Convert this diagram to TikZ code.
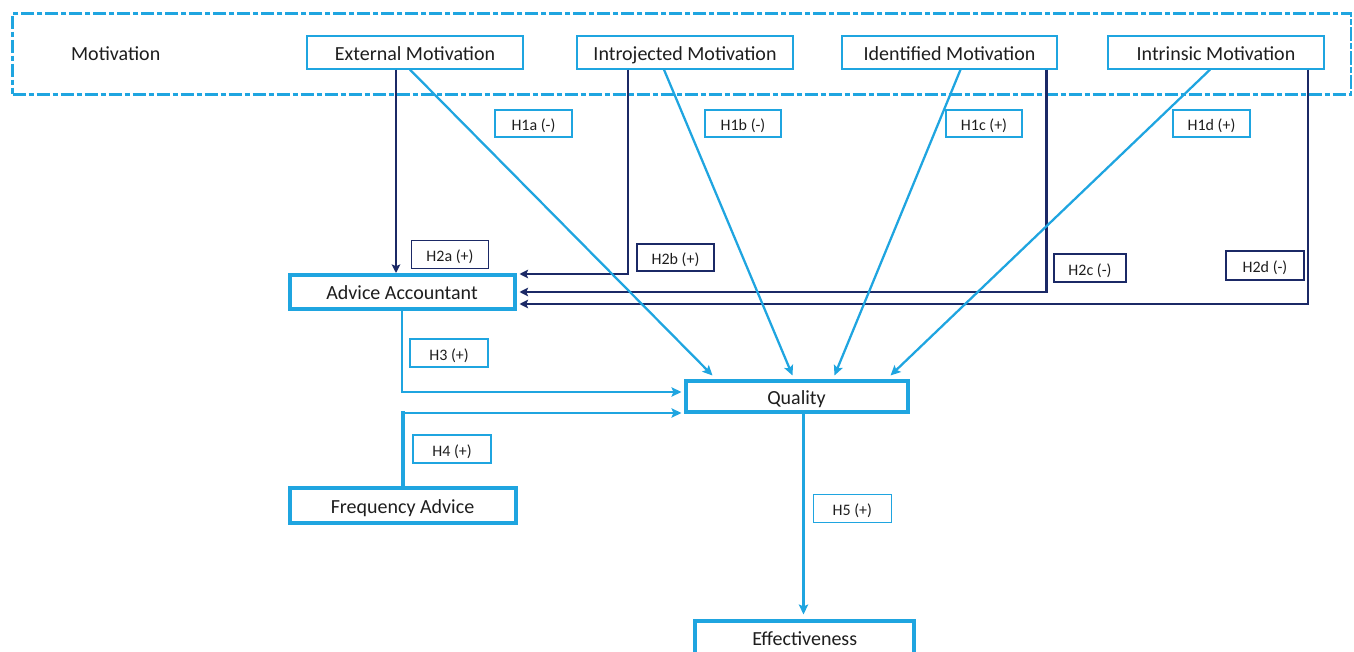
\documentclass[tikz,border=0pt]{standalone}
\usepackage{fontspec}
\setmainfont{Carlito}
\usetikzlibrary{arrows.meta,calc}
\definecolor{lb}{HTML}{1FA5E0}
\definecolor{nv}{HTML}{1B2966}
\definecolor{tx}{HTML}{1E1E1E}
\begin{document}
\begin{tikzpicture}[x=0.75pt,y=-0.75pt,
  every node/.style={inner sep=0pt, text=tx},
  sz/.style 2 args={minimum width=#1*0.75pt, minimum height=#2*0.75pt},
  bigtxt/.style={font=\fontsize{15}{18}\selectfont, text height=14pt, text depth=2pt},
  smtxt/.style={font=\fontsize{12}{14}\selectfont, text height=12.5pt, text depth=1.6pt},
  motbox/.style={draw=lb, line width=1pt, bigtxt},
  mainbox/.style={draw=lb, line width=3pt, fill=white, bigtxt},
  lblue/.style={draw=lb, line width=1pt, smtxt},
  lnavy/.style={draw=nv, line width=1pt, smtxt},
  navyarrow/.style={draw=nv, line width=1.7pt, -{Stealth[length=6.5pt,width=6.5pt,inset=1.5pt]}},
  bluearrow/.style={draw=lb, line width=1.7pt, -{Stealth[length=7.5pt,width=7pt,inset=1.5pt]}},
  groupbox/.style={draw=lb, line width=1.9pt, dash pattern=on 10pt off 2pt on 4pt off 2pt}
]
\useasboundingbox (0,0) rectangle (1354,652);

% motivation group
\node[groupbox, sz={1338.5}{80.8}] (grp) at (681.75,53.9) {};
\node[bigtxt] (mot) at (115.7,53) {Motivation};
\node[motbox, sz={216}{33}] (ext) at (415,52.5) {External Motivation};
\node[motbox, sz={216}{33}] (intro) at (685,52.5) {Introjected Motivation};
\node[motbox, sz={215}{33}] (ident) at (949.5,52.5) {Identified Motivation};
\node[motbox, sz={216}{33}] (intr) at (1216,52.5) {Intrinsic Motivation};

% main boxes
\node[mainbox, sz={225}{34}] (aa) at (402,292) {Advice Accountant};
\node[mainbox, sz={222}{31}] (quality) at (796.5,397) {Quality};
\node[mainbox, sz={226}{35}] (freq) at (402.5,505.5) {Frequency Advice};
\node[mainbox, sz={219}{33}] (eff) at (804.7,637) {Effectiveness};

% hypothesis labels
\node[lblue, sz={77}{27}] (h1a) at (533.5,123.5) {H1a (-)};
\node[lblue, sz={76}{27}] (h1b) at (743,123.5) {H1b (-)};
\node[lblue, sz={76}{27}] (h1c) at (984,123.5) {H1c (+)};
\node[lblue, sz={77}{27}] (h1d) at (1211.5,123.5) {H1d (+)};
\node[lnavy, sz={77}{28}] (h2a) at (450,254.5) {H2a (+)};
\node[lnavy, sz={77}{27}] (h2b) at (675.5,257.5) {H2b (+)};
\node[lnavy, sz={72}{28}] (h2c) at (1090,268) {H2c (-)};
\node[lnavy, sz={78}{29}] (h2d) at (1265,265.5) {H2d (-)};
\node[lblue, sz={78}{28}] (h3) at (449,353) {H3 (+)};
\node[lblue, sz={78}{28}] (h4) at (452,449) {H4 (+)};
\node[lblue, sz={78}{28}] (h5) at (852.3,508.5) {H5 (+)};

% navy arrows (H2)
\coordinate (e1) at ($(ext.south)+(-19,0)$);
\draw[navyarrow] (e1) -- (e1 |- aa.north);
\coordinate (i1) at ($(intro.south)+(-57,0)$);
\draw[navyarrow] (i1) |- ($(aa.north east)+(3,1)$);
\coordinate (d1) at ($(ident.south)+(97,0)$);
\draw[navyarrow] (d1) |- ($(aa.east)+(3,0)$);
\coordinate (n1) at ($(intr.south)+(92,0)$);
\draw[navyarrow] (n1) |- ($(aa.east)+(3,12)$);

% blue arrows (H1)
\draw[bluearrow] ($(ext.south)+(-5,0)$) -- ($(quality.north)+(-84,-4)$);
\draw[bluearrow] ($(intro.south)+(-21,0)$) -- ($(quality.north)+(-4,-4)$);
\draw[bluearrow] ($(ident.south)+(11,0)$) -- ($(quality.north)+(38,-4)$);
\draw[bluearrow] ($(intr.south)+(-6,0)$) -- ($(quality.north)+(94,-4)$);

% H3
\draw[bluearrow, line width=1.5pt] (aa.south) |- ($(quality.west)+(-2,-5)$);

% H4
\coordinate (qf) at ($(quality.west)+(-2,16)$);
\coordinate (fc) at (freq.north |- qf);
\draw[lb, line width=3pt, line cap=rect] (freq.north) -- (fc);
\draw[bluearrow, line width=2pt] (fc) -- (qf);

% H5
\coordinate (q1) at ($(quality.south)+(7,0)$);
\coordinate (ef) at ($(eff.north)+(0,-4)$);
\draw[bluearrow] (q1) -- (q1 |- ef);
\end{tikzpicture}
\end{document}
